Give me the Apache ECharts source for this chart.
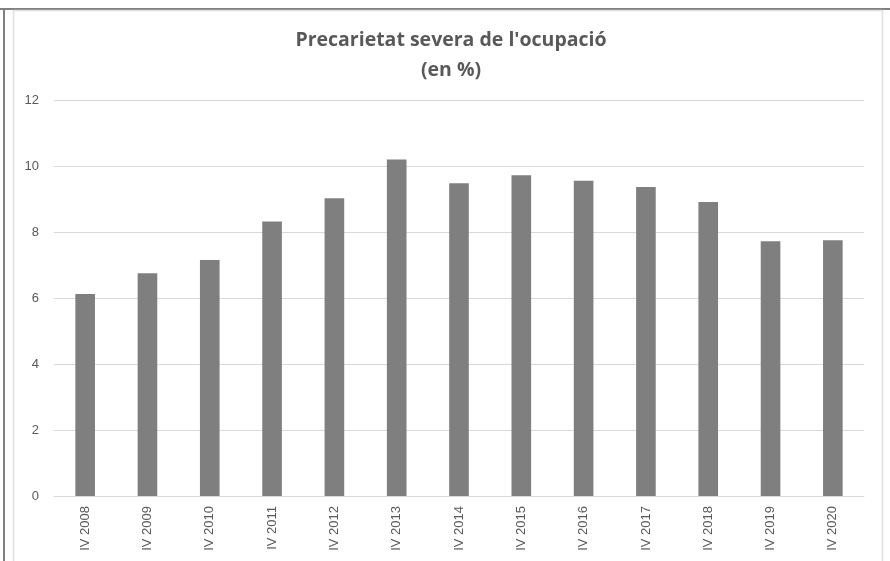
<!DOCTYPE html>
<html>
<head>
<meta charset="utf-8">
<script src="https://cdn.jsdelivr.net/npm/echarts@6/dist/echarts.min.js"></script>
<style>
  html, body { margin: 0; padding: 0; background: #fff; }
  #main { width: 890px; height: 561px; }
</style>
</head>
<body>
<div id="main"></div>
<script>
// categories and values (%)
var years = ['IV 2008', 'IV 2009', 'IV 2010', 'IV 2011', 'IV 2012', 'IV 2013', 'IV 2014',
             'IV 2015', 'IV 2016', 'IV 2017', 'IV 2018', 'IV 2019', 'IV 2020'];
var values = [6.12, 6.75, 7.15, 8.32, 9.02, 10.2, 9.48, 9.72, 9.55, 9.36, 8.91, 7.72, 7.75];
var yTicks = [0, 2, 4, 6, 8, 10, 12];

var myChart = echarts.init(document.getElementById('main'));
var option = {
    backgroundColor: '#fff',
    animation: false,
    title: {
        text: "Precarietat severa de l'ocupació\n(en %)",
        left: 446,
        top: 20,
        textAlign: 'center',
        textStyle: {
            fontFamily: 'Open Sans',
            fontSize: 19.5,
            fontWeight: 'bold',
            color: '#595959',
            lineHeight: 30
        }
    },
    grid: { left: 54, right: 26, top: 100, bottom: 65 },
    xAxis: {
        type: 'category',
        data: years,
        axisLine: { lineStyle: { color: '#d9d9d9', width: 1 } },
        axisTick: { show: false },
        axisLabel: {
            rotate: 90,
            margin: 10,
            color: '#595959',
            fontSize: 13,
            fontFamily: 'Liberation Sans'
        }
    },
    yAxis: {
        type: 'value',
        min: yTicks[0],
        max: yTicks[yTicks.length - 1],
        interval: 2,
        axisLine: { show: false },
        axisTick: { show: false },
        splitLine: { lineStyle: { color: '#d9d9d9', width: 1 } },
        axisLabel: {
            margin: 15,
            color: '#595959',
            fontSize: 13,
            fontFamily: 'Liberation Sans'
        }
    },
    series: [{
        type: 'bar',
        data: values,
        barWidth: '31.5%',
        itemStyle: { color: '#7f7f7f' }
    }],
    graphic: [
        // outer frame lines
        { type: 'rect', shape: { x: 0, y: 8, width: 890, height: 2 }, style: { fill: '#808080' }, silent: true },
        { type: 'rect', shape: { x: 3, y: 8, width: 2, height: 553 }, style: { fill: '#808080' }, silent: true },
        // chart area border
        { type: 'rect', shape: { x: 13.5, y: 10.5, width: 869, height: 560 },
          style: { fill: null, stroke: '#e0e0e0', lineWidth: 1.5 }, silent: true }
    ]
};
myChart.setOption(option, true);
window.addEventListener('resize', function () {
    myChart.resize();
});
</script>
</body>
</html>
